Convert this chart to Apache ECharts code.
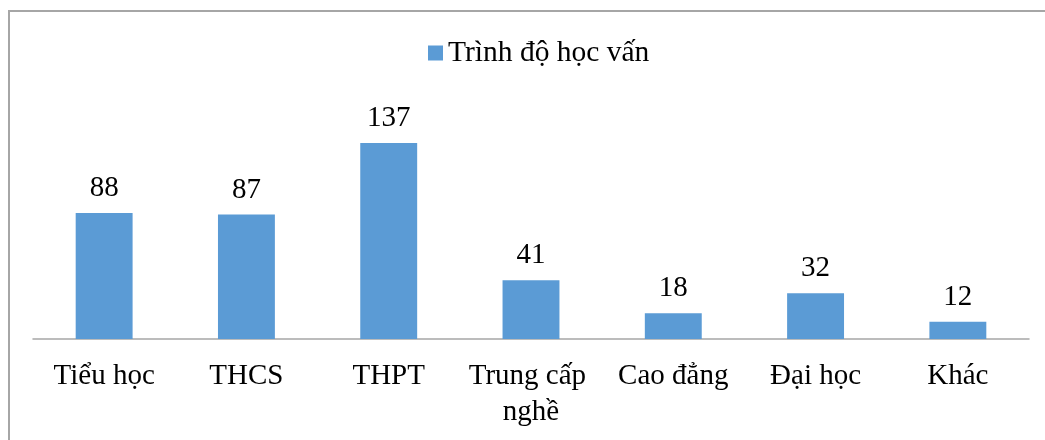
<!DOCTYPE html>
<html>
<head>
<meta charset="utf-8">
<script src="https://cdn.jsdelivr.net/npm/echarts@6/dist/echarts.min.js"></script>
<style>
	html, body { margin: 0; padding: 0; background: #fff; overflow: hidden; }
	#frame { position: absolute; left: 8px; top: 10px; width: 1100px; height: 500px; border: 2px solid #a6a6a6; }
	#chart { position: absolute; left: 0; top: 0; width: 1045px; height: 440px; }
</style>
</head>
<body>
<div id="frame"></div>
<div id="chart"></div>
<script>
var categories = ['Tiểu học', 'THCS', 'THPT', 'Trung cấp nghề', 'Cao đẳng', 'Đại học', 'Khác'];
var seriesName = 'Trình độ học vấn';
var values = [88, 87, 137, 41, 18, 32, 12];

var fontFamily = "'Liberation Serif', 'Times New Roman', serif";
var myChart = echarts.init(document.getElementById('chart'), null, { renderer: 'canvas' });
var option = {
	backgroundColor: 'transparent',
	animation: false,
	legend: {
		left: 428,
		top: 38,
		padding: 0,
		itemWidth: 15,
		itemHeight: 15,
		icon: 'rect',
		data: [seriesName],
		textStyle: {
			fontFamily: fontFamily,
			fontSize: 29.5,
			color: '#000'
		}
	},
	grid: {
		left: 33,
		right: 16,
		top: 110,
		bottom: 101
	},
	xAxis: {
		type: 'category',
		data: categories,
		axisTick: { show: false },
		axisLine: {
			lineStyle: { color: '#a6a6a6', width: 1.5 }
		},
		axisLabel: {
			interval: 0,
			margin: 19,
			width: 150,
			overflow: 'break',
			lineHeight: 36,
			fontFamily: fontFamily,
			fontSize: 29,
			color: '#000'
		}
	},
	yAxis: {
		type: 'value',
		min: 0,
		max: 160,
		show: false
	},
	series: [
		{
			name: seriesName,
			type: 'bar',
			barWidth: '40%',
			data: values,
			itemStyle: { color: '#5B9BD5' },
			label: {
				show: true,
				position: 'top',
				distance: 10,
				fontFamily: fontFamily,
				fontSize: 29,
				color: '#000'
			}
		}
	]
};
myChart.setOption(option);
window.addEventListener("resize", function() {
	myChart.resize();
});
</script>
</body>
</html>
